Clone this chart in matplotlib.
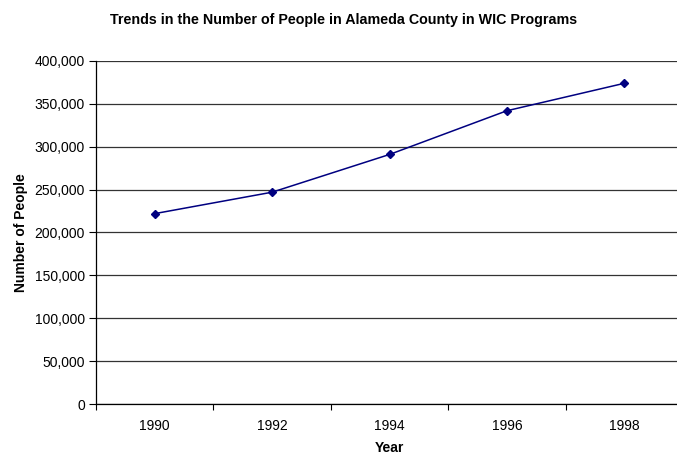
import matplotlib

matplotlib.use("Agg")
import matplotlib.pyplot as plt
from matplotlib.ticker import FuncFormatter, FixedLocator

years = ["1990", "1992", "1994", "1996", "1998"]
people = [222000, 247000, 291000, 342000, 374000]
y_ticks = [0, 50000, 100000, 150000, 200000, 250000, 300000, 350000, 400000]

LINE = "#000080"

plt.rcParams["font.family"] = ["Liberation Sans", "DejaVu Sans"]

fig = plt.figure(figsize=(6.77, 4.55), dpi=100)
W, H = 677, 455
# axes box in pixels: left 96, right ~683 (cropped off the figure), top 61, bottom 404
ax = fig.add_axes([96 / W, (H - 404) / H, 587 / W, 343 / H])

x = list(range(len(years)))
ax.plot(x, people, color=LINE, lw=1.1, marker="D", markersize=4,
        markerfacecolor=LINE, markeredgecolor=LINE, clip_on=False)

ax.set_xlim(-0.5, len(years) - 0.5)
ax.set_ylim(0, 400000)
ax.set_yticks(y_ticks)
ax.yaxis.set_major_formatter(FuncFormatter(lambda v, p: "{:,.0f}".format(v)))
ax.grid(axis="y", color="#333333", lw=0.9)
ax.set_axisbelow(True)

# category boundaries carry the tick marks, labels sit in the middle
ax.xaxis.set_major_locator(FixedLocator([i - 0.5 for i in range(len(years) + 1)]))
ax.xaxis.set_minor_locator(FixedLocator(x))
ax.set_xticklabels([""] * (len(years) + 1))
ax.set_xticklabels(years, minor=True)
ax.tick_params(axis="x", which="major", direction="out", length=4, width=0.8)
ax.tick_params(axis="x", which="minor", length=0, pad=10.5, labelsize=10)
ax.tick_params(axis="y", direction="out", length=5, width=0.8, pad=3, labelsize=10)

for side in ["top", "right"]:
    ax.spines[side].set_visible(False)
for side in ["left", "bottom"]:
    ax.spines[side].set_linewidth(0.9)

ax.set_xlabel("Year", fontsize=10, fontweight="bold", labelpad=6)
ax.set_ylabel("Number of People", fontsize=10, fontweight="bold", labelpad=5)
fig.text(344 / W, 1 - 20 / H, "Trends in the Number of People in Alameda County in WIC Programs",
         ha="center", va="center", fontsize=10.3, fontweight="bold")

fig.savefig("out.png", dpi=100)
